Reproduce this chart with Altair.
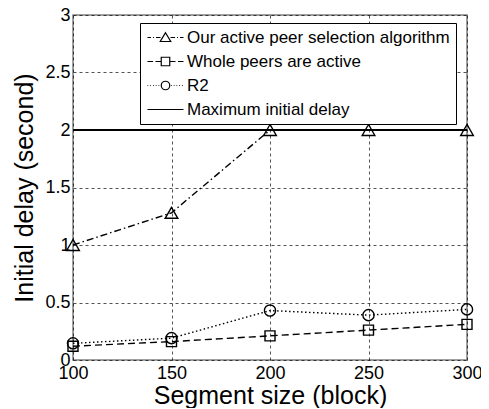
import altair as alt
import pandas as pd

# ---- data ----
segment_size = [100, 150, 200, 250, 300]
ours = [1.0, 1.28, 2.0, 2.0, 2.0]
whole = [0.12, 0.16, 0.21, 0.26, 0.31]
r2 = [0.145, 0.19, 0.43, 0.39, 0.44]
max_delay = [2.0]
series_names = [
    "Our active peer selection algorithm",
    "Whole peers are active",
    "R2",
    "Maximum initial delay",
]
x_ticks = [100, 150, 200, 250, 300]
y_ticks = [0, 0.5, 1, 1.5, 2, 2.5, 3]

FONT = "Liberation Sans"

df = pd.DataFrame({
    "seg": segment_size * 3,
    "delay": ours + whole + r2,
    "series": [series_names[0]] * 5 + [series_names[1]] * 5 + [series_names[2]] * 5,
})

x_enc = alt.X("seg:Q", scale=alt.Scale(domain=[100, 300], nice=False),
              axis=alt.Axis(values=x_ticks, title="Segment size (block)", format="d"))
y_enc = alt.Y("delay:Q", scale=alt.Scale(domain=[0, 3], nice=False),
              axis=alt.Axis(values=y_ticks, title="Initial delay (second)", format="~g"))

dashes = {
    series_names[0]: [7, 3, 1.5, 3],
    series_names[1]: [7, 4],
    series_names[2]: [1.5, 2.5],
}
shapes = {
    series_names[0]: ("triangle-up", 160),
    series_names[1]: ("square", 100),
    series_names[2]: ("circle", 125),
}

layers = []
# maximum initial delay line
layers.append(
    alt.Chart(pd.DataFrame({"delay": max_delay})).mark_rule(color="black", strokeWidth=2)
    .encode(y=alt.Y("delay:Q", scale=alt.Scale(domain=[0, 3], nice=False)))
)
for name in series_names[:3]:
    base = alt.Chart(df).transform_filter(alt.datum.series == name)
    layers.append(
        base.mark_line(color="black", strokeWidth=1.4, strokeDash=dashes[name])
        .encode(x=x_enc, y=y_enc)
    )
    shp, sz = shapes[name]
    layers.append(
        base.mark_point(color="black", shape=shp, size=sz, filled=False, strokeWidth=1.4, opacity=1)
        .encode(x=x_enc, y=y_enc)
    )

# legend symbols: custom paths (line style + marker), unit = sqrt(size)/2 px
def seg(a, b):
    return f"M{a} 0H{b}"

tri = "M0 -0.95L1.05 0.8L-1.05 0.8Z"
sq = "M-0.85 -0.85H0.85V0.85H-0.85Z"
circ = "M0.85 0A0.85 0.85 0 1 1 -0.85 0A0.85 0.85 0 1 1 0.85 0Z"
p_tri = " ".join([seg(-3.6, -2.9), seg(-2.5, -2.3), seg(-1.9, -1.0), tri,
                  seg(1.0, 1.9), seg(2.3, 2.5), seg(2.9, 3.6)])
p_sq = " ".join([seg(-3.6, -2.5), seg(-2.0, -0.85), sq, seg(0.85, 2.0), seg(2.5, 3.6)])
dots_l = [seg(-3.6 + i * 0.55, -3.45 + i * 0.55) for i in range(5)]
dots_r = [seg(1.1 + i * 0.55, 1.25 + i * 0.55) for i in range(5)]
p_circ = " ".join(dots_l + [circ] + dots_r)
p_solid = seg(-3.6, 3.6)

legend_df = pd.DataFrame({"series": series_names})
legend_layer = (
    alt.Chart(legend_df)
    .transform_filter("false")
    .mark_point(color="black", filled=False)
    .encode(
        shape=alt.Shape(
            "series:N",
            scale=alt.Scale(domain=series_names, range=[p_tri, p_sq, p_circ, p_solid]),
            legend=alt.Legend(
                title=None, orient="none", legendX=67, legendY=8,
                symbolSize=100, symbolStrokeWidth=1.2, symbolStrokeColor="black",
                symbolFillColor="transparent", symbolOpacity=1,
                labelFont=FONT, labelFontSize=17, labelColor="black", labelLimit=400,
                labelOffset=13, rowPadding=6, padding=6,
                strokeColor="black", fillColor="white", cornerRadius=0,
                symbolOffset=11,
            ),
        )
    )
)
layers.append(legend_layer)

chart = (
    alt.layer(*layers)
    .properties(width=394, height=345, autosize=alt.AutoSizeParams(type="none"),
                padding={"left": 65, "top": 7, "right": 14, "bottom": 48})
    .configure_view(stroke="#808080", strokeWidth=1.5)
    .configure_axis(
        grid=True, gridColor="black", gridDash=[3, 3], gridOpacity=0.85, gridWidth=0.8,
        domain=False, ticks=False, labelFlush=False, labelOverlap=False,
        labelFont=FONT, labelFontSize=18, labelColor="black",
        titleFont=FONT, titleFontSize=25, titleColor="black", titleFontWeight="normal",
    )
    .configure_axisX(labelPadding=4, titlePadding=1)
    .configure_axisY(labelPadding=3, titlePadding=7)
)

chart.save("out.html", embed_options={"renderer": "svg", "actions": False})
